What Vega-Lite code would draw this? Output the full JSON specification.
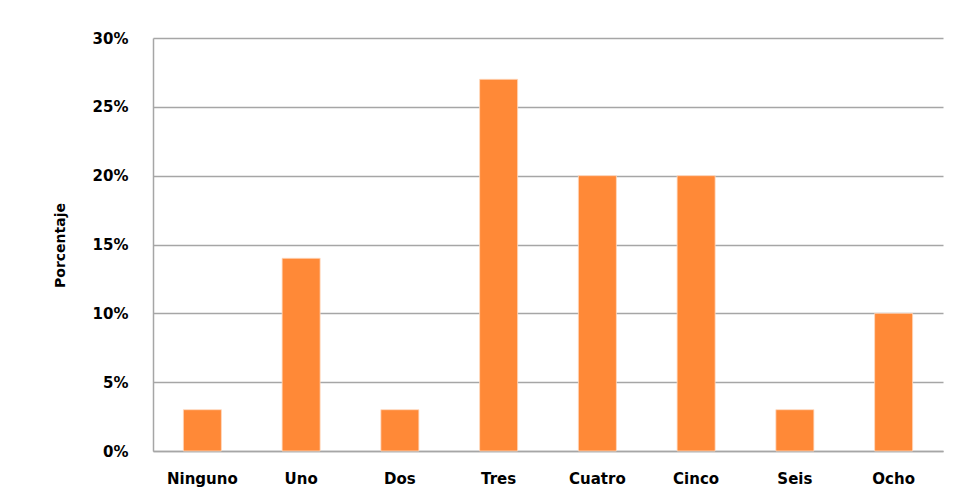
{
  "$schema": "https://vega.github.io/schema/vega-lite/v6.json",
  "width": 790,
  "height": 413,
  "autosize": "none",
  "padding": {"left": 153, "top": 38, "right": 16, "bottom": 46},
  "background": "white",
  "data": {
    "values": [
      {"hijos": "Ninguno", "porcentaje": 3},
      {"hijos": "Uno", "porcentaje": 14},
      {"hijos": "Dos", "porcentaje": 3},
      {"hijos": "Tres", "porcentaje": 27},
      {"hijos": "Cuatro", "porcentaje": 20},
      {"hijos": "Cinco", "porcentaje": 20},
      {"hijos": "Seis", "porcentaje": 3},
      {"hijos": "Ocho", "porcentaje": 10}
    ]
  },
  "mark": {"type": "bar", "color": "#FF8937", "stroke": "#FFD9BF", "strokeWidth": 0.8},
  "encoding": {
    "x": {
      "field": "hijos",
      "type": "nominal",
      "sort": null,
      "scale": {"paddingInner": 0.615, "paddingOuter": 0.3075},
      "axis": {
        "title": null,
        "labelAngle": 0,
        "ticks": false,
        "domain": true,
        "domainColor": "#A6A6A6",
        "domainWidth": 1.5,
        "labelPadding": 20,
        "labelFont": "DejaVu Sans",
        "labelFontWeight": "bold",
        "labelFontSize": 15,
        "labelColor": "#000000"
      }
    },
    "y": {
      "field": "porcentaje",
      "type": "quantitative",
      "scale": {"domain": [0, 30]},
      "axis": {
        "title": "Porcentaje",
        "values": [0, 5, 10, 15, 20, 25, 30],
        "labelExpr": "datum.value + '%'",
        "ticks": false,
        "domain": true,
        "domainColor": "#A6A6A6",
        "domainWidth": 1.5,
        "grid": true,
        "gridColor": "#A6A6A6",
        "gridWidth": 1.5,
        "labelPadding": 25,
        "labelFont": "DejaVu Sans",
        "labelFontWeight": "bold",
        "labelFontSize": 15,
        "labelColor": "#000000",
        "titleFont": "DejaVu Sans",
        "titleFontWeight": "bold",
        "titleFontSize": 14,
        "titleColor": "#000000",
        "titleX": -93,
        "titleY": 207,
        "titleAngle": -90,
        "titleBaseline": "middle",
        "titleAlign": "center"
      }
    }
  },
  "config": {
    "view": {"stroke": null}
  }
}
